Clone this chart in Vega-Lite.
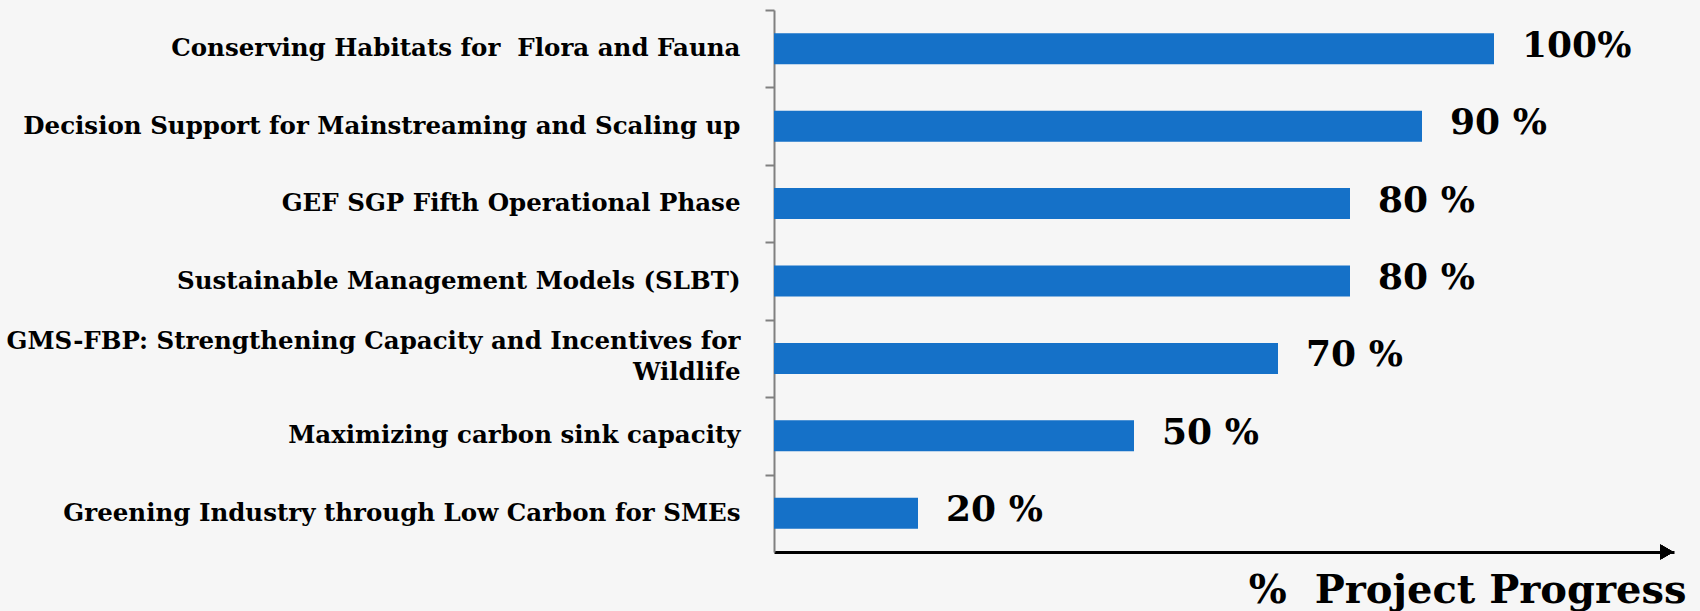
{
  "$schema": "https://vega.github.io/schema/vega-lite/v6.json",
  "width": 900,
  "height": 542,
  "autosize": {"type": "none"},
  "padding": {"left": 774, "top": 10, "right": 26, "bottom": 59},
  "background": "#f6f6f6",
  "config": {"view": {"stroke": null}, "font": "DejaVu Serif"},
  "data": {
    "values": [
      {"project": "Conserving Habitats for  Flora and Fauna", "progress": 100, "pct_label": "100%"},
      {"project": "Decision Support for Mainstreaming and Scaling up", "progress": 90, "pct_label": "90 %"},
      {"project": "GEF SGP Fifth Operational Phase", "progress": 80, "pct_label": "80 %"},
      {"project": "Sustainable Management Models (SLBT)", "progress": 80, "pct_label": "80 %"},
      {"project": "GMS-FBP: Strengthening Capacity and Incentives for Wildlife", "progress": 70, "pct_label": "70 %"},
      {"project": "Maximizing carbon sink capacity", "progress": 50, "pct_label": "50 %"},
      {"project": "Greening Industry through Low Carbon for SMEs", "progress": 20, "pct_label": "20 %"}
    ]
  },
  "layer": [
    {
      "mark": {"type": "bar", "color": "#1571c8", "height": {"band": 0.4}},
      "encoding": {
        "y": {
          "field": "project", "type": "nominal", "sort": null,
          "scale": {"paddingInner": 0, "paddingOuter": 0},
          "axis": {
            "title": null, "grid": false,
            "domainColor": "#808080", "domainWidth": 2,
            "tickColor": "#808080", "tickWidth": 2, "tickSize": 9,
            "tickOffset": -38.71,
            "labelOffset": {"condition": {"test": "indexof(datum.value, 'GMS-FBP') == 0", "value": 22}, "value": 38.71},
            "labelPadding": 25, "labelFont": "DejaVu Serif", "labelFontWeight": "bold",
            "labelFontSize": 24.5, "labelColor": "black", "labelLimit": 0, "labelLineHeight": 31,
            "labelExpr": "datum.label == 'GMS-FBP: Strengthening Capacity and Incentives for Wildlife' ? ['GMS-FBP: Strengthening Capacity and Incentives for', 'Wildlife'] : replace(datum.label, '  ', ' \u00a0')"
          }
        },
        "x": {
          "field": "progress", "type": "quantitative",
          "scale": {"domain": [0, 125], "nice": false, "zero": true},
          "axis": {
            "grid": false, "ticks": false, "labels": false,
            "domainColor": "black", "domainWidth": 3,
            "title": "%\u00a0 Project Progress",
            "titleFont": "DejaVu Serif", "titleFontSize": 40, "titleFontWeight": "bold",
            "titleColor": "black", "titleAlign": "right", "titleBaseline": "alphabetic",
            "titleX": 912, "titleY": 50
          }
        }
      }
    },
    {
      "mark": {"type": "text", "align": "left", "baseline": "middle", "dx": 28, "dy": -3,
               "font": "DejaVu Serif", "fontWeight": "bold", "fontSize": 36, "color": "black"},
      "encoding": {
        "y": {"field": "project", "type": "nominal", "sort": null,
              "scale": {"paddingInner": 0, "paddingOuter": 0}, "axis": null},
        "x": {"field": "progress", "type": "quantitative"},
        "text": {"field": "pct_label"}
      }
    },
    {
      "mark": {"type": "point", "shape": "triangle-right", "filled": true, "color": "black", "opacity": 1, "size": 220},
      "encoding": {
        "x": {"datum": 124, "type": "quantitative"},
        "y": {"datum": 0, "type": "quantitative", "scale": {"domain": [0, 1]}, "axis": null}
      }
    }
  ],
  "resolve": {"scale": {"y": "independent"}}
}
